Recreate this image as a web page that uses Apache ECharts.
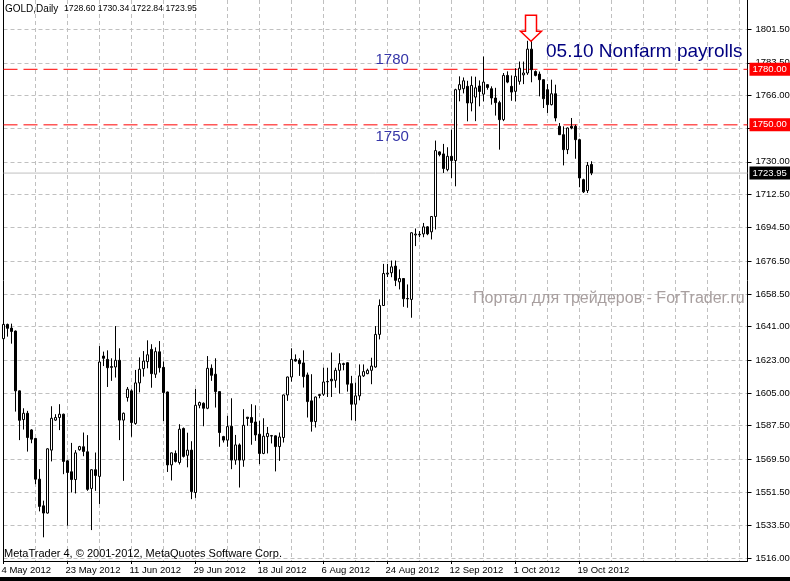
<!DOCTYPE html>
<html><head><meta charset="utf-8">
<script src="https://cdn.jsdelivr.net/npm/echarts@6.0.0/dist/echarts.min.js"></script>
<style>html,body{margin:0;padding:0;background:#fff;}#c{width:790px;height:581px;}</style>
</head><body><div id="c"></div>
<script>
// ---- data ----
const barCount = 148;          // 4 May 2012 .. 23 Oct 2012 (MT4 daily bars incl. Sundays)
const totalSlots = 187;        // bars + empty chart shift
const opens = [1634.5,1642.2,1640.2,1638.6,1606.3,1590.8,1594.2,1585.2,1580.6,1558.6,1544.2,1540.3,1574.3,1590.5,1591.9,1593.7,1568.5,1562.6,1558.4,1574.5,1576.1,1573.4,1553.6,1563.7,1560.1,1625.1,1623.3,1619.4,1619.2,1622.8,1590.5,1602.7,1606.3,1588.7,1610.6,1618.3,1622.1,1628.7,1615.3,1627.4,1619.0,1605.7,1566.3,1572.5,1567.6,1586.0,1571.5,1574.3,1551.4,1598.5,1599.6,1596.9,1618.5,1615.3,1605.9,1581.6,1579.7,1587.2,1568.9,1577.1,1568.9,1592.1,1591.9,1589.5,1582.9,1572.5,1581.6,1582.1,1582.0,1576.2,1581.1,1604.1,1613.8,1623.3,1622.8,1621.4,1614.9,1600.9,1589.7,1603.8,1604.5,1611.4,1612.6,1612.0,1617.4,1621.0,1621.5,1610.2,1599.1,1603.6,1614.4,1615.6,1617.4,1619.2,1636.8,1652.4,1669.4,1670.1,1673.7,1665.2,1667.0,1656.2,1655.7,1690.5,1690.6,1691.1,1694.9,1692.2,1700.5,1735.4,1734.3,1725.8,1733.0,1730.7,1769.0,1769.5,1770.8,1761.8,1765.0,1771.0,1766.6,1771.7,1769.5,1764.5,1762.0,1752.8,1776.7,1770.8,1768.1,1773.5,1777.0,1778.0,1790.9,1778.8,1777.4,1774.4,1769.0,1760.9,1766.8,1749.2,1744.7,1736.6,1749.2,1749.2,1742.0,1720.4,1714.5,1728.60];
const closes = [1642.2,1640.1,1638.4,1606.3,1590.4,1594.2,1581.1,1580.2,1558.6,1543.9,1540.3,1575.0,1591.5,1591.9,1593.7,1568.2,1562.2,1558.4,1572.8,1576.2,1573.6,1553.1,1563.7,1560.6,1621.9,1623.9,1618.8,1619.0,1622.8,1590.5,1594.2,1607.2,1589.2,1610.6,1618.0,1622.4,1625.8,1615.6,1627.5,1618.8,1605.4,1566.3,1572.8,1568.2,1585.6,1570.9,1574.3,1551.9,1598.5,1600.0,1596.9,1618.5,1614.7,1605.9,1583.8,1579.7,1587.0,1568.9,1577.1,1568.9,1587.7,1591.4,1589.2,1582.5,1572.5,1581.8,1583.3,1581.9,1576.2,1581.4,1604.1,1613.8,1623.3,1622.4,1621.0,1614.0,1600.5,1589.7,1603.0,1604.3,1611.1,1611.2,1611.7,1617.4,1621.0,1620.6,1609.9,1599.1,1603.6,1614.4,1616.7,1617.4,1619.7,1636.8,1652.4,1669.7,1669.9,1673.3,1666.0,1667.0,1656.1,1656.0,1691.7,1691.0,1690.9,1694.9,1691.1,1700.5,1736.1,1733.9,1726.4,1733.0,1730.7,1769.0,1771.7,1773.8,1761.8,1771.3,1770.0,1768.0,1773.1,1770.2,1764.5,1762.0,1752.8,1776.7,1773.1,1767.7,1776.2,1780.6,1778.0,1790.9,1779.8,1776.7,1774.4,1764.1,1760.9,1766.8,1753.7,1744.7,1736.6,1748.3,1748.3,1742.0,1721.3,1713.8,1728.1,1723.95];
const lows = [1626.0,1635.6,1631.8,1595.1,1579.7,1585.4,1573.5,1578.0,1555.9,1541.2,1527.2,1540.0,1568.2,1590.1,1585.1,1561.3,1533.5,1551.4,1550.9,1574.0,1571.0,1552.3,1531.1,1552.3,1545.2,1619.7,1608.4,1611.7,1613.5,1579.7,1557.7,1600.5,1581.5,1588.0,1605.5,1614.0,1618.5,1608.0,1613.3,1616.2,1590.0,1562.5,1557.9,1567.6,1566.5,1570.3,1565.0,1547.8,1548.5,1596.9,1587.2,1596.4,1611.7,1597.3,1576.1,1578.4,1576.1,1564.0,1566.4,1554.1,1565.3,1587.4,1577.2,1579.3,1566.7,1572.1,1572.5,1577.9,1562.8,1568.5,1578.4,1600.9,1611.3,1622.1,1614.4,1608.1,1591.9,1584.3,1586.5,1602.3,1603.6,1603.0,1603.0,1608.0,1604.8,1617.4,1605.9,1590.4,1590.1,1601.2,1613.8,1615.3,1609.9,1618.8,1634.1,1652.2,1667.8,1667.7,1662.9,1661.1,1651.7,1651.2,1645.8,1684.5,1689.3,1689.3,1690.4,1688.1,1693.5,1733.0,1724.0,1724.9,1721.3,1716.8,1762.7,1767.0,1751.9,1757.3,1752.0,1760.0,1762.7,1769.0,1760.9,1755.0,1736.6,1752.0,1772.5,1763.0,1762.7,1771.7,1772.0,1777.0,1773.0,1776.2,1765.4,1759.1,1756.4,1760.5,1751.9,1744.5,1728.1,1734.2,1747.6,1731.7,1716.3,1713.2,1713.2,1722.84];
const highs = [1647.3,1642.6,1642.6,1638.9,1606.5,1596.9,1595.5,1585.6,1580.8,1564.0,1547.0,1575.3,1598.0,1593.7,1599.1,1594.0,1568.9,1578.2,1574.3,1576.6,1583.8,1582.4,1564.0,1573.0,1630.5,1627.5,1628.2,1623.9,1641.3,1629.3,1594.6,1608.4,1607.2,1617.6,1624.4,1627.8,1633.6,1631.5,1629.8,1633.2,1622.2,1605.9,1573.0,1574.1,1588.3,1586.5,1583.7,1579.1,1607.3,1600.5,1600.1,1625.1,1620.6,1623.9,1606.1,1582.0,1592.8,1602.3,1582.5,1577.9,1596.4,1592.1,1599.1,1598.5,1590.1,1591.5,1586.8,1582.5,1582.2,1583.8,1604.3,1614.0,1629.3,1626.0,1623.9,1628.2,1616.2,1615.3,1603.2,1604.5,1618.8,1618.8,1627.0,1618.8,1626.6,1621.5,1621.7,1614.4,1610.8,1620.6,1620.6,1618.3,1624.2,1641.3,1655.7,1674.9,1674.9,1676.7,1676.7,1671.9,1667.2,1663.8,1692.0,1694.0,1692.6,1697.0,1695.3,1700.7,1741.5,1735.7,1739.7,1737.9,1747.4,1769.5,1776.2,1775.6,1773.8,1776.2,1776.0,1774.0,1786.9,1772.0,1770.8,1770.0,1763.0,1778.0,1778.9,1776.7,1780.6,1784.2,1784.2,1795.4,1795.4,1779.4,1778.8,1774.6,1772.0,1774.4,1771.7,1751.0,1749.2,1748.6,1753.7,1750.1,1742.5,1720.9,1729.9,1730.34];
const yTickLabels = ['1516.00','1533.50','1551.50','1569.50','1587.50','1605.00','1623.00','1641.00','1658.50','1676.50','1694.50','1712.50','1730.00','1748.00','1766.00','1783.50','1801.50'];
const priceMin = 1514.4, priceMax = 1817.44;
const level1780 = 1780, level1750 = 1750, bidPrice = 1723.95;
const titleName = 'GOLD,Daily';
const titleQuote = '1728.60 1730.34 1722.84 1723.95';
const copyText = 'MetaTrader 4, \u00a9 2001-2012, MetaQuotes Software Corp.';
const watermark = 'Портал для трейдеров - ForTrader.ru';
const eventText = '05.10 Nonfarm payrolls';
const eventBar = 132;
const textBar = 93;

// ---- categories (trading days; MT4 gold has Sunday bars, no Saturdays) ----
const months = ['Jan','Feb','Mar','Apr','May','Jun','Jul','Aug','Sep','Oct','Nov','Dec'];
const cats = [];
let d = new Date(Date.UTC(2012, 4, 4));
while (cats.length < barCount) {
  if (d.getUTCDay() !== 6) cats.push(d.getUTCDate() + ' ' + months[d.getUTCMonth()] + ' ' + d.getUTCFullYear());
  d = new Date(d.getTime() + 86400000);
}
for (let i = cats.length; i < totalSlots; i++) cats.push('slot' + i);

const FONT = '"Liberation Sans"';
const candles = opens.map((o, i) => [o, closes[i], lows[i], highs[i]]);
const tickVals = yTickLabels.map(parseFloat);

// horizontal level drawn as a 2-point line series; price tag as end label
function levelSeries(value, color, type, labelBg, z) {
  return {type: 'line', data: [[0, value], [totalSlots - 1, value]], symbol: 'none', silent: true, z: z,
    color: color, clip: false,
    lineStyle: {color: color, type: type, width: 1},
    itemStyle: {color: color},
    endLabel: {show: true, formatter: value.toFixed(2), backgroundColor: labelBg, color: '#fff',
      fontFamily: FONT, fontSize: 9.5, padding: [2, 4, 1, 3], distance: 2}};
}

const chart = echarts.init(document.getElementById('c'), null, {renderer: 'canvas'});
chart.setOption({
  animation: false,
  backgroundColor: '#fff',
  grid: {left: 3.5, right: 42.5, top: 0, bottom: 20, containLabel: false, outerBoundsMode: 'none'},
  xAxis: {
    type: 'category', data: cats, boundaryGap: false,
    axisLine: {show: true, lineStyle: {color: '#000', width: 1}},
    axisTick: {show: true, length: 3, interval: (i) => i % 16 === 0 && i < barCount, lineStyle: {color: '#000'}},
    axisLabel: {interval: 15, formatter: (v, i) => i < barCount ? v : '', align: 'left', margin: 4,
      color: '#000', fontFamily: FONT, fontSize: 9.5, padding: [0, 0, 0, -2]},
    splitLine: {show: true, interval: (i) => i % 8 === 0 && i > 0, lineStyle: {color: '#c0c0c0', type: [4, 3], width: 1}}
  },
  yAxis: [{
    type: 'value', position: 'right', min: priceMin, max: priceMax, scale: true,
    axisLine: {show: true, lineStyle: {color: '#000'}},
    axisTick: {show: true, length: 4, customValues: tickVals, lineStyle: {color: '#000'}},
    axisLabel: {customValues: tickVals, margin: 8, color: '#000', fontFamily: FONT, fontSize: 9.5,
      formatter: (v) => { let b = 0; tickVals.forEach((t, j) => { if (Math.abs(t - v) < Math.abs(tickVals[b] - v)) b = j; }); return yTickLabels[b]; }},
    splitLine: {show: true, lineStyle: {color: '#c0c0c0', type: [4, 3], width: 1}}
  }, {
    type: 'value', position: 'left', min: priceMin, max: priceMax,
    axisLine: {show: true, onZero: false, lineStyle: {color: '#000'}},
    axisTick: {show: false}, axisLabel: {show: false}, splitLine: {show: false}
  }],
  series: [
    {type: 'candlestick', data: candles, barWidth: 2, z: 5,
      itemStyle: {color: '#fff', color0: '#000', borderColor: '#000', borderColor0: '#000', borderWidth: 1}},
    levelSeries(bidPrice, '#c0c0c0', 'solid', '#000', 2),
    levelSeries(level1750, '#ff0000', [14, 6], '#ff0000', 3),
    levelSeries(level1780, '#ff0000', [14, 6], '#ff0000', 3)
  ]
});

// annotations anchored to data via the chart's scales
const tip = chart.convertToPixel({xAxisIndex: 0, yAxisIndex: 0}, [eventBar, highs[eventBar]]);
const p1780 = chart.convertToPixel({xAxisIndex: 0, yAxisIndex: 0}, [textBar, level1780]);
const p1750 = chart.convertToPixel({xAxisIndex: 0, yAxisIndex: 0}, [textBar, level1750]);
const tx = tip[0] - 0.5, ty = tip[1] + 0.5;
chart.setOption({
  graphic: [
    {type: 'text', left: 5, top: 4, style: {text: titleName, fill: '#000', font: '10px ' + FONT}},
    {type: 'text', left: 64, top: 4, style: {text: titleQuote, fill: '#000', font: '8.7px ' + FONT}},
    {type: 'text', left: 4, top: 548, style: {text: copyText, fill: '#000', font: '11px ' + FONT}},
    {type: 'text', left: 473, top: 291, style: {text: watermark, fill: '#a89f9f', font: '16px ' + FONT}},
    {type: 'text', x: tx + 15, y: 42, style: {text: eventText, fill: '#000080', font: '19px ' + FONT}},
    {type: 'text', x: p1780[0], y: p1780[1] - 17, style: {text: String(level1780), fill: '#3535a8', font: '15px ' + FONT}},
    {type: 'text', x: p1780[0], y: p1750[1] + 5, style: {text: String(level1750), fill: '#3535a8', font: '15px ' + FONT}},
    {type: 'polygon', shape: {points: [[tx - 5.5, ty - 26], [tx + 5.5, ty - 26], [tx + 5.5, ty - 10], [tx + 10.5, ty - 10], [tx, ty], [tx - 10.5, ty - 10], [tx - 5.5, ty - 10]]},
      style: {fill: '#fff', stroke: '#ff0000', lineWidth: 1.5}, z: 100},
    {type: 'rect', shape: {x: 0, y: 577, width: 790, height: 4}, style: {fill: '#000'}}
  ]
});
</script></body></html>
